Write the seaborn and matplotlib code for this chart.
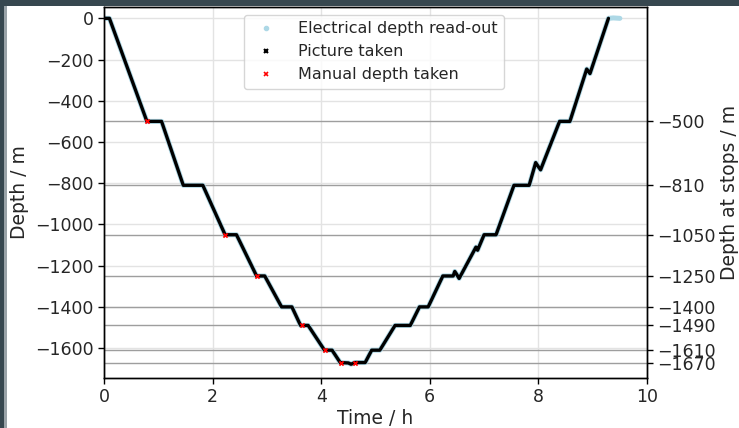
import matplotlib
matplotlib.use("Agg")
import matplotlib.pyplot as plt
from matplotlib.lines import Line2D
from matplotlib.patches import Rectangle
import numpy as np
import pandas as pd
import seaborn as sns

# dive profile (time in h, depth in m)
picture_time = [0.00, 0.10, 0.79, 1.06, 1.46, 1.82, 2.23, 2.44, 2.81, 2.96,
                3.27, 3.46, 3.62, 3.76, 4.06, 4.20, 4.35, 4.50, 4.55, 4.62,
                4.81, 4.93, 5.08, 5.36, 5.64, 5.81, 5.97, 6.24, 6.43, 6.46,
                6.49, 6.54, 6.85, 6.88, 7.00, 7.22, 7.55, 7.83, 7.95, 8.00,
                8.04, 8.39, 8.58, 8.89, 8.95, 9.29]
picture_depth = [0, 0, -500, -500, -810, -810, -1050, -1050, -1250, -1250,
                 -1400, -1400, -1490, -1490, -1610, -1610, -1670, -1672, -1678, -1670,
                 -1670, -1610, -1610, -1490, -1490, -1400, -1400, -1250, -1250, -1228,
                 -1240, -1262, -1110, -1125, -1050, -1050, -810, -810, -700, -720,
                 -735, -500, -500, -246, -268, 0]

# electrical read-out keeps going a bit after the last picture
readout_tail_time = [9.38, 9.50]
readout_tail_depth = [2, 0]

manual_time = [0.79, 2.23, 2.81, 3.64, 4.07, 4.36, 4.62]
manual_depth = [-500, -1050, -1250, -1490, -1610, -1670, -1670]

stop_depths = [-500, -810, -1050, -1250, -1400, -1490, -1610, -1670]

pictures = pd.DataFrame({"time": picture_time, "depth": picture_depth})
readout = pd.DataFrame({"time": picture_time + readout_tail_time,
                        "depth": picture_depth + readout_tail_depth})
manual = pd.DataFrame({"time": manual_time, "depth": manual_depth})

sns.set_theme(style="ticks")
plt.rcParams["font.family"] = ["DejaVu Sans"]

fig = plt.figure(figsize=(7.39, 4.28), dpi=100)
fig.patch.set_facecolor("#37474f")
fig.patches.append(Rectangle((4 / 739, 0), 3 / 739, 1 - 6 / 428, transform=fig.transFigure,
                             facecolor="#9aa3a8", edgecolor="none", zorder=-2))
fig.patches.append(Rectangle((7 / 739, 0), 1, 1 - 6 / 428, transform=fig.transFigure,
                             facecolor="white", edgecolor="none", zorder=-1))
ax = fig.add_axes([104 / 739, 1 - 378 / 428, 543 / 739, 371 / 428])

ax.grid(True, color="#e3e3e3", linewidth=1)
for d in stop_depths:
    ax.axhline(d, color="#9e9e9e", linewidth=1, zorder=1)

sns.lineplot(data=readout, x="time", y="depth", sort=False, color="lightblue",
             linewidth=3.6, ax=ax, zorder=2)
sns.lineplot(data=pictures, x="time", y="depth", sort=False, color="black",
             linewidth=2.4, ax=ax, zorder=3)
sns.scatterplot(data=manual, x="time", y="depth", marker="x", color="red",
                s=9, linewidth=1.3, ax=ax, zorder=4)

ax.set_xlim(0, 10)
ax.set_ylim(-1745, 55)
ax.set_xticks([0, 2, 4, 6, 8, 10])
ax.set_yticks(np.arange(-1600, 1, 200))
ax.set_xlabel("Time / h", fontsize=13.5, labelpad=2)
ax.set_ylabel("Depth / m", fontsize=13.5)
ax.tick_params(labelsize=12.5, length=4, width=1, color="black")
for s in ax.spines.values():
    s.set_color("black")
    s.set_linewidth(1)

ax2 = ax.twinx()
ax2.set_ylim(ax.get_ylim())
ax2.set_yticks(stop_depths)
ax2.set_yticklabels([f"\u2212{abs(d)}" for d in stop_depths])
ax2.set_ylabel("Depth at stops / m", fontsize=13.5, labelpad=3)
ax2.tick_params(labelsize=12.5, length=4, width=1, color="black")
for s in ax2.spines.values():
    s.set_color("black")
    s.set_linewidth(1)

handles = [
    Line2D([], [], linestyle="none", marker="o", markersize=3, color="lightblue"),
    Line2D([], [], linestyle="none", marker="x", markersize=3, markeredgewidth=1.5, color="black"),
    Line2D([], [], linestyle="none", marker="x", markersize=3, markeredgewidth=1.2, color="red"),
]
ax.legend(handles, ["Electrical depth read-out", "Picture taken", "Manual depth taken"],
          loc="upper center", bbox_to_anchor=(0.497, 1.0),
          prop={"family": "DejaVu Sans", "size": 11.5},
          frameon=True, handletextpad=1.0, borderaxespad=0.5, labelspacing=0.5)

fig.savefig("out.png", dpi=100, facecolor=fig.get_facecolor())
